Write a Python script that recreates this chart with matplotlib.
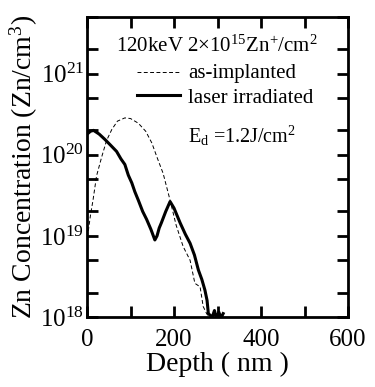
import matplotlib
matplotlib.use("Agg")
import matplotlib.pyplot as plt
from matplotlib.ticker import LogLocator, MultipleLocator, NullFormatter

plt.rcParams['font.family'] = ['Liberation Serif', 'DejaVu Serif']
plt.rcParams['mathtext.fontset'] = 'custom'
plt.rcParams['mathtext.rm'] = 'Liberation Serif'
plt.rcParams['mathtext.it'] = 'Liberation Serif:italic'

# as-implanted profile (depth nm, Zn/cm3)
depth_impl = [3, 8, 14, 22, 34, 45, 57, 70, 87, 100, 118, 135, 149, 162, 175,
              191, 205, 221, 237, 248, 260, 267, 275, 280]
conc_impl = [1.15e19, 1.8e19, 2.8e19, 5.5e19, 9.5e19, 1.5e20, 2.05e20, 2.6e20,
             2.85e20, 2.8e20, 2.45e20, 1.95e20, 1.4e20, 9.0e19, 5.9e19,
             2.75e19, 1.35e19, 7.4e18, 5.0e18, 2.6e18, 2.35e18, 1.35e18,
             1.1e18, 1.0e18]

# laser irradiated profile
depth_laser = [3, 8, 15, 28, 41, 55, 68, 78, 87, 95, 103, 110, 118, 128, 137,
               147, 156, 161, 166, 171, 181, 191, 200, 214, 226, 237, 247, 256,
               264, 271, 276, 279, 283, 288, 293, 298, 303, 308, 313]
conc_laser = [1.85e20, 1.95e20, 2.0e20, 1.8e20, 1.55e20, 1.3e20, 1.1e20,
              8.9e19, 7.6e19, 5.6e19, 4.5e19, 3.5e19, 2.75e19, 2.0e19, 1.6e19,
              1.2e19, 8.9e18, 1.0e19, 1.25e19, 1.45e19, 2.0e19, 2.65e19,
              2.2e19, 1.45e19, 1.05e19, 8.1e18, 5.8e18, 3.8e18, 2.9e18,
              2.15e18, 1.6e18, 1.1e18, 1.05e18, 1.0e18, 1.2e18, 0.95e18,
              1.15e18, 0.97e18, 1.1e18]

fig = plt.figure(figsize=(3.75, 3.87), dpi=100)
ax = fig.add_axes([0.232, 0.181, 0.696, 0.775])

ax.plot(depth_impl, conc_impl, color='black', lw=0.7, ls=(0, (4, 2.5)))
ax.plot(depth_laser, conc_laser, color='black', lw=2.2)

ax.set_yscale('log')
ax.set_xlim(0, 600)
ax.set_ylim(1e18, 5e21)

ax.xaxis.set_major_locator(MultipleLocator(200))
ax.xaxis.set_minor_locator(MultipleLocator(100))
ax.yaxis.set_major_locator(LogLocator(base=10, numticks=10))
ax.yaxis.set_minor_locator(LogLocator(base=10, subs=(2.0, 5.0), numticks=10))
ax.yaxis.set_minor_formatter(NullFormatter())

ax.tick_params(which='both', direction='in', top=True, right=True,
               length=8, width=2)
ax.tick_params(axis='y', which='major', labelsize=18, pad=2)
ax.tick_params(axis='x', which='major', labelsize=18, pad=9)
for s in ax.spines.values():
    s.set_linewidth(2)

ax.set_xlabel('Depth ( nm )', fontsize=20, labelpad=0)
ax.set_ylabel(r'Zn Concentration (Zn/cm$^3$)', fontsize=20, labelpad=0)

ax.text(0.498, 0.883, r'120keV 2$\times$10$^{15}$Zn$^{+}$/cm$^{2}$',
        transform=ax.transAxes, ha='center', va='baseline', fontsize=15)
ax.plot([0.192, 0.356], [0.817, 0.817], transform=ax.transAxes,
        color='black', lw=0.7, ls=(0, (4, 2.5)))
ax.plot([0.192, 0.356], [0.74, 0.74], transform=ax.transAxes,
        color='black', lw=2.2)
ax.text(0.387, 0.797, 'as-implanted', transform=ax.transAxes,
        va='baseline', fontsize=15)
ax.text(0.387, 0.713, 'laser irradiated', transform=ax.transAxes,
        va='baseline', fontsize=15)
ax.text(0.387, 0.58, r'E$_{\mathrm{d}}$ =1.2J/cm$^{2}$', transform=ax.transAxes,
        va='baseline', fontsize=14.5)

fig.savefig('out.png', dpi=100)
